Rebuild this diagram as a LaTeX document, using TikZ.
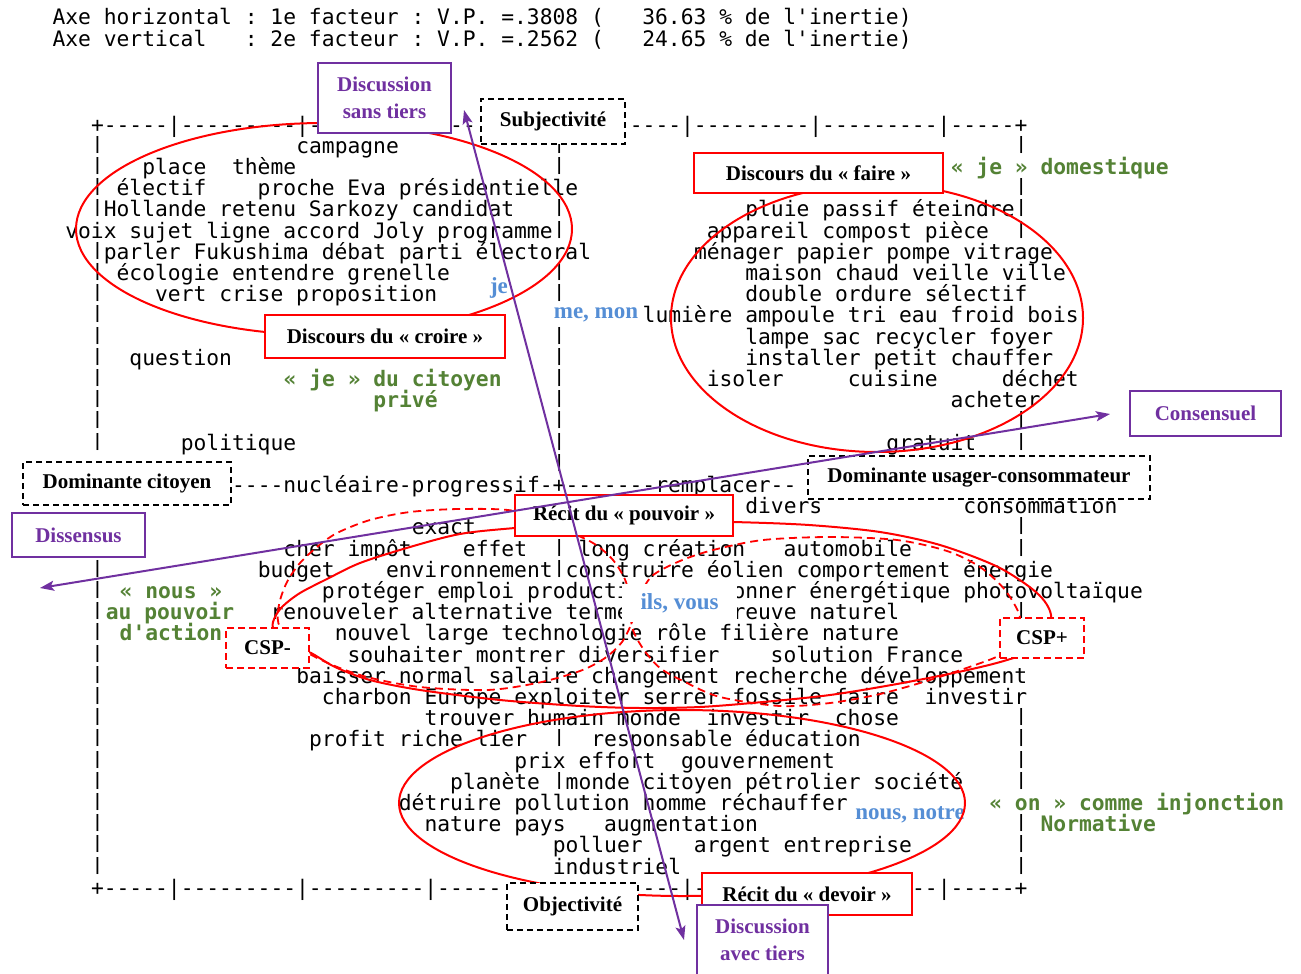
\documentclass[tikz,border=0pt]{standalone}
\usepackage{fontspec}
\usepackage{graphicx}
\setmainfont{Liberation Serif}
\setmonofont{DejaVu Sans Mono}
\usetikzlibrary{arrows.meta}
\definecolor{vpurple}{RGB}{112,48,160}
\definecolor{vgreen}{RGB}{84,130,53}
\definecolor{vblue}{RGB}{85,142,213}
\newcommand\chartfont{\ttfamily\fontsize{21.3}{21.2}\selectfont}
\newcommand\boxfont{\rmfamily\bfseries\fontsize{21}{27}\selectfont}
\newcommand\bluefont{\rmfamily\bfseries\fontsize{23}{25}\selectfont}
\newcommand\dashnine{---------}
\newcommand\dashfive{-----}
\newcommand\vbarglyph{\raisebox{4pt}{\scalebox{1}[0.8]{|}}}
\newcommand\seg[4]{\node[chartseg] (#1) at ({91+12.83*(#3)},{132+21.2*(#2)}) {#4};}
\tikzset{
 chartseg/.style={anchor=base west, inner sep=0pt, outer sep=0pt, font=\chartfont},
 greentxt/.style={anchor=base west, inner sep=0pt, font=\chartfont\bfseries, text=vgreen},
 bluelbl/.style={inner sep=0pt, font=\bluefont, text=vblue},
 redbox/.style={draw=red, line width=2pt, fill=white, font=\boxfont, inner sep=2pt},
 purplebox/.style={draw=vpurple, line width=2.2pt, fill=white, font=\boxfont, text=vpurple, align=center, inner sep=2pt},
 blackdash/.style={draw=black, line width=1.3pt, dash pattern=on 6pt off 4pt, fill=white, font=\boxfont, inner sep=2pt},
 reddash/.style={draw=red, line width=1.8pt, dash pattern=on 7pt off 4pt, fill=white, font=\boxfont, inner sep=2pt},
 redcurve/.style={draw=red, line width=2pt},
 reddashcurve/.style={draw=red, line width=1.8pt, dash pattern=on 8pt off 5pt},
 purplearrow/.style={draw=vpurple, line width=2pt, {Stealth[length=14pt,width=10pt,inset=3pt]}-{Stealth[length=14pt,width=10pt,inset=3pt]}}
}
\begin{document}
\begin{tikzpicture}[x=1pt,y=-1pt]
\useasboundingbox (0,0) rectangle (1301,974);
\clip (0,0) rectangle (1301,974);
\fill[white] (0,0) rectangle (1301,974);

% header
\node[chartseg] (hdr1) at (52.5,25) {Axe horizontal : 1e facteur : V.P. =.3808 (~~~36.63 \% de l'inertie)};
\node[chartseg] (hdr2) at (52.5,46.5) {Axe vertical~~~: 2e facteur : V.P. =.2562 (~~~24.65 \% de l'inertie)};

% frame rows (visible parts)
\seg{r0a}{0}{0}{+\dashfive|\dashnine|-}
\seg{r0b}{0}{28}{--}
\seg{r0c}{0}{42}{----|\dashnine|\dashnine|\dashfive+}
\seg{r36a}{36}{0}{+\dashfive|\dashnine|\dashnine|\dashfive}
\seg{r36b}{36}{43}{---|-}
\seg{r36c}{36}{64}{--|\dashfive+}
\seg{r17a}{17}{11}{----nucléaire-progressif-+-------remplacer--}

% bars
\foreach \r in {1,2,3,4,6,7,...,15,21,22,...,35}{\node[chartseg] (lb\r) at (91,{132+21.2*\r}) {\vbarglyph};}
\foreach \r in {1,2,4,5,7,8,10,11,...,16,20,21,29,31}{\node[chartseg] (ab\r) at ({91+12.83*36},{132+21.2*\r}) {\vbarglyph};}
\foreach \r in {1,3,4,5,14,15,19,20,23,28,29,30,31,33,34,35}{\node[chartseg] (rb\r) at ({91+12.83*72},{132+21.2*\r}) {\vbarglyph};}

% words
\seg{r1a}{1}{16}{campagne}
\seg{r2a}{2}{4}{place~~thème}
\seg{r3a}{3}{2}{électif~~~~proche Eva présidentielle}
\seg{r4a}{4}{1}{Hollande retenu Sarkozy candidat}
\seg{r4b}{4}{51}{pluie passif éteindre}
\seg{r5a}{5}{-2}{voix sujet ligne accord Joly programme}
\seg{r5b}{5}{48}{appareil compost pièce}
\seg{r6a}{6}{1}{parler Fukushima débat parti électoral}
\seg{r6b}{6}{47}{ménager papier pompe vitrage}
\seg{r7a}{7}{2}{écologie entendre grenelle}
\seg{r7b}{7}{51}{maison chaud veille ville}
\seg{r8a}{8}{5}{vert crise proposition}
\seg{r8b}{8}{51}{double ordure sélectif}
\seg{r9a}{9}{43}{lumière ampoule tri eau froid bois}
\seg{r10a}{10}{51}{lampe sac recycler foyer}
\seg{r11a}{11}{3}{question}
\seg{r11b}{11}{51}{installer petit chauffer}
\seg{r12a}{12}{48}{isoler~~~~~cuisine~~~~~déchet}
\seg{r13a}{13}{67}{acheter}
\seg{r15a}{15}{7}{politique}
\seg{r15b}{15}{62}{gratuit}
\seg{r18a}{18}{51}{divers}
\seg{r18b}{18}{68}{consommation}
\seg{r19a}{19}{25}{exact}
\seg{r20a}{20}{15}{cher impôt~~~~effet}
\seg{r20b}{20}{38}{long création~~~automobile}
\seg{r21a}{21}{13}{budget~~~~environnement}
\seg{r21b}{21}{37}{construire éolien comportement énergie}
\seg{r22a}{22}{18}{protéger emploi producti}
\seg{r22b}{22}{50}{onner énergétique photovoltaïque}
\seg{r23a}{23}{14}{renouveler alternative terme}
\seg{r23b}{23}{50}{reuve naturel}
\seg{r24a}{24}{19}{nouvel large technologie rôle filière nature}
\seg{r25a}{25}{20}{souhaiter montrer diversifier~~~~solution France}
\seg{r26a}{26}{16}{baisser normal salaire changement recherche développement}
\seg{r27a}{27}{18}{charbon Europe exploiter serrer fossile faire~~investir}
\seg{r28a}{28}{26}{trouver humain monde~~investir~~chose}
\seg{r29a}{29}{17}{profit riche lier}
\seg{r29b}{29}{39}{responsable éducation}
\seg{r30a}{30}{33}{prix effort~~gouvernement}
\seg{r31a}{31}{28}{planète}
\seg{r31b}{31}{37}{monde citoyen pétrolier société}
\seg{r32a}{32}{24}{détruire pollution homme réchauffer}
\seg{r33a}{33}{26}{nature pays~~~augmentation}
\seg{r34a}{34}{36}{polluer~~~~argent entreprise}
\seg{r35a}{35}{36}{industriel}

% green texts
\node[greentxt] (gdom) at ({91+12.83*67},{132+21.2*2}) {« je » domestique};
\node[greentxt] (gcit) at ({91+12.83*15},{132+21.2*12}) {« je » du citoyen};
\node[greentxt] (gpriv) at ({91+12.83*22},{132+21.2*13}) {privé};
\node[greentxt, anchor=base] (gnous) at (171,{132+21.2*22}) {« nous »};
\node[greentxt, anchor=base] (gpouv) at (170,{132+21.2*23}) {au pouvoir};
\node[greentxt, anchor=base] (gact) at (171,{132+21.2*24}) {d'action};
\node[greentxt] (gon) at ({91+12.83*70},{132+21.2*32}) {« on » comme injonction};
\node[greentxt] (gnorm) at ({91+12.83*74},{132+21.2*33}) {Normative};

% blue labels (under curves)
\node[bluelbl] (bje) at (499,288) {je};
\node[bluelbl] (bme) at (596,315) {me, mon};
\node[bluelbl] (bnous) at (910,815) {nous, notre};

% red curves
\draw[redcurve] (324,229) ellipse [x radius=248, y radius=106];
\draw[redcurve] (877,318) ellipse [x radius=206, y radius=134];
\draw[redcurve] (682,803) ellipse [x radius=283, y radius=93];
\draw[redcurve] plot[smooth cycle] coordinates {(733,522) (809,525) (880,532) (940,545) (998,567) (1037,593) (1051,615) (1045,645) (1007,660) (963,671) (897,684) (830,695) (763,702) (700,707) (640,708) (580,706) (500,700) (420,690) (370,680) (335,667) (309,652) (285,645) (273,628) (275,617) (283,606) (300,593) (327,579) (360,563) (410,547) (460,534) (515,528) (620,520)};
\draw[reddashcurve] plot[smooth cycle] coordinates {(280,627) (278,612) (281,597) (288,580) (300,563) (317,547) (337,533) (370,520) (410,512) (460,509) (515,511) (560,528) (593,543) (613,560) (626,582) (629,605) (633,630) (644,650) (660,668) (685,682) (720,697) (780,706) (830,703) (880,694) (930,680) (975,665) (1000,655) (1016,640) (1020,617) (1005,590) (980,567) (947,551) (897,540) (830,537) (763,540) (713,550) (680,561) (652,576) (639,598) (632,622) (622,642) (605,658) (580,671) (537,683) (487,690) (420,687) (367,677) (330,664) (300,648)};

% boxes
\node[purplebox, minimum width=133, minimum height=70] (dst) at (384.5,98) {Discussion\\sans tiers};
\node[blackdash, minimum width=144, minimum height=45] (subj) at (553,121.5) {Subjectivité};
\node[redbox, minimum width=249, minimum height=40] (faire) at (818.5,173) {Discours du « faire »};
\node[redbox, minimum width=240, minimum height=43] (croire) at (385,336.5) {Discours du « croire »};
\node[purplebox, minimum width=151, minimum height=45] (cons) at (1205.5,413.5) {Consensuel};
\node[blackdash, minimum width=342, minimum height=43] (domu) at (979,477.5) {Dominante usager-consommateur};
\node[blackdash, minimum width=208, minimum height=43] (domc) at (127,483.5) {Dominante citoyen};
\node[purplebox, minimum width=133, minimum height=44] (diss) at (78.5,535) {Dissensus};
\node[redbox, minimum width=218, minimum height=41] (pouv) at (624,515.5) {Récit du « pouvoir »};
\node[reddash, minimum width=83, minimum height=40] (cspm) at (267.5,648) {CSP-};
\node[reddash, minimum width=84, minimum height=40] (cspp) at (1042,638) {CSP+};
\node[fill=white, inner sep=0pt, minimum width=115, minimum height=38, font=\bluefont, text=vblue] (ils) at (679.5,603) {ils, vous};
\node[blackdash, minimum width=131, minimum height=47] (obj) at (572.5,906.5) {Objectivité};
\node[redbox, minimum width=210, minimum height=42] (dev) at (807,894) {Récit du « devoir »};
\node[purplebox, minimum width=131, minimum height=70] (dat) at (762.5,940) {Discussion\\avec tiers};

% purple arrows
\coordinate (vtop) at (464,110);
\coordinate (vbot) at (684,940);
\coordinate (hleft) at (40,588);
\coordinate (hright) at (1110,414);
\draw[purplearrow] (vtop) -- (vbot);
\draw[purplearrow] (hleft) -- (hright);
\end{tikzpicture}
\end{document}
